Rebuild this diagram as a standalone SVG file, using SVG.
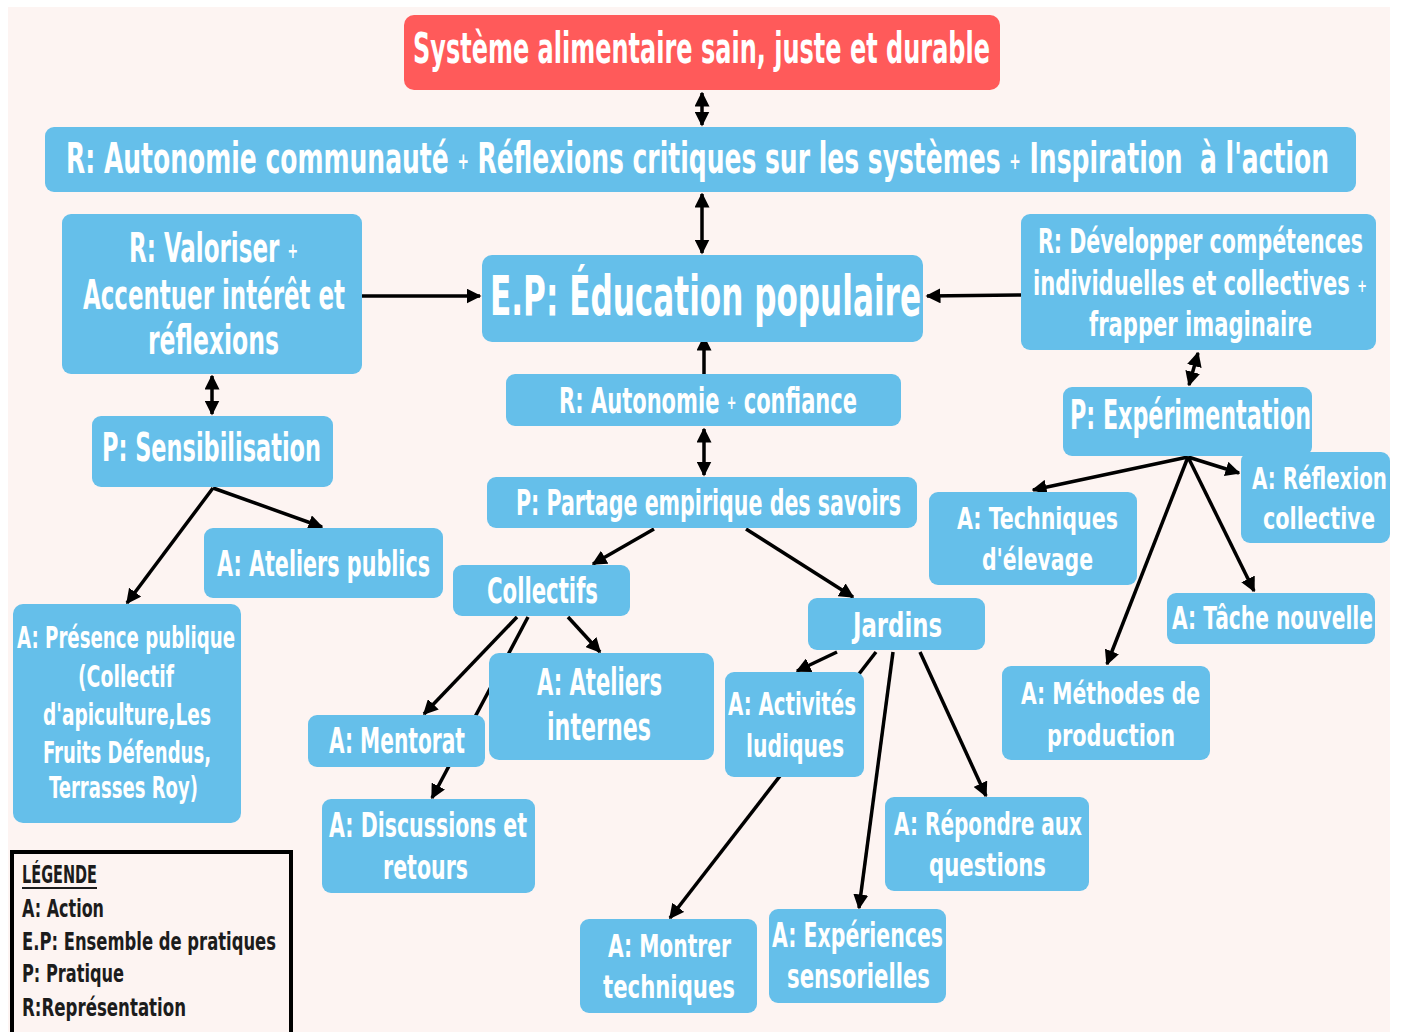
<svg xmlns="http://www.w3.org/2000/svg" width="1401" height="1032" viewBox="0 0 1401 1032">
<defs>
<style>
.bg{fill:#fdf4f2}
.n{fill:#65bfea}
.red{fill:#ff5a5a}
.t{font-family:"Liberation Sans Narrow","DejaVu Sans Condensed","Roboto Condensed","Liberation Sans",sans-serif;font-weight:bold;fill:#ffffff;text-anchor:middle}
.p{font-size:55%;baseline-shift:18%}
.lg{font-family:"Liberation Sans Narrow","DejaVu Sans Condensed","Roboto Condensed","Liberation Sans",sans-serif;font-weight:bold;fill:#1c1c1c;font-size:24px}
.c{stroke:#000;stroke-width:3.5;fill:none;marker-end:url(#ah)}
.d{stroke:#000;stroke-width:3.5;fill:none;marker-end:url(#ah);marker-start:url(#ah)}
</style>
<marker id="ah" viewBox="0 0 10 10" refX="9" refY="5" markerWidth="15" markerHeight="15" markerUnits="userSpaceOnUse" orient="auto-start-reverse">
<path d="M0,0 L10,5 L0,10 z" fill="#000"/>
</marker>
</defs>
<rect x="0" y="0" width="1401" height="1032" fill="#ffffff"/>
<rect class="bg" x="8" y="7" width="1382" height="1025"/>

<g id="connectors">
<line class="d" x1="702" y1="93" x2="702" y2="125"/>
<line class="d" x1="702" y1="194" x2="702" y2="253"/>
<line class="c" x1="362" y1="296" x2="480" y2="296"/>
<line class="c" x1="1021" y1="295" x2="927" y2="296"/>
<line class="c" x1="704" y1="374" x2="704" y2="337"/>
<line class="d" x1="704" y1="429" x2="704" y2="475"/>
<line class="d" x1="212" y1="376" x2="212" y2="414"/>
<line class="d" x1="1198" y1="353" x2="1189" y2="385"/>
<line class="c" x1="213" y1="488" x2="127" y2="603"/>
<line class="c" x1="213" y1="488" x2="322" y2="527"/>
<line class="c" x1="654" y1="529" x2="593" y2="564"/>
<line class="c" x1="746" y1="529" x2="853" y2="597"/>
<line class="c" x1="517" y1="617" x2="424" y2="714"/>
<line class="c" x1="528" y1="617" x2="432" y2="798"/>
<line class="c" x1="568" y1="617" x2="600" y2="652"/>
<line class="c" x1="837" y1="652" x2="797" y2="671"/>
<line class="c" x1="876" y1="652" x2="670" y2="918"/>
<line class="c" x1="893" y1="652" x2="859" y2="908"/>
<line class="c" x1="920" y1="652" x2="986" y2="796"/>
<line class="c" x1="1188" y1="457" x2="1033" y2="490"/>
<line class="c" x1="1188" y1="457" x2="1239" y2="473"/>
<line class="c" x1="1188" y1="457" x2="1107" y2="664"/>
<line class="c" x1="1188" y1="457" x2="1254" y2="591"/>
</g>

<g id="n-systeme"><rect class="red" x="404" y="15" width="596" height="75" rx="10"/><text class="t" x="701.5" y="63" font-size="42" textLength="577" lengthAdjust="spacingAndGlyphs">Système alimentaire sain, juste et durable</text></g>

<g id="n-r-top"><rect class="n" x="45" y="127" width="1311" height="65" rx="9"/><text class="t" x="697.5" y="173" font-size="42" textLength="1263" lengthAdjust="spacingAndGlyphs" xml:space="preserve">R: Autonomie communauté <tspan class="p">+</tspan> Réflexions critiques sur les systèmes <tspan class="p">+</tspan> Inspiration  à l'action</text></g>

<g id="n-valoriser"><rect class="n" x="62" y="214" width="300" height="160" rx="9"/>
<text class="t" x="213.5" y="262" font-size="40" textLength="169" lengthAdjust="spacingAndGlyphs">R: Valoriser <tspan class="p">+</tspan></text>
<text class="t" x="214" y="309" font-size="40" textLength="262" lengthAdjust="spacingAndGlyphs">Accentuer intérêt et</text>
<text class="t" x="213.5" y="354" font-size="40" textLength="131" lengthAdjust="spacingAndGlyphs">réflexions</text></g>

<g id="n-ep"><rect class="n" x="482" y="255" width="441" height="87" rx="10"/><text class="t" x="705.5" y="315" font-size="56" textLength="431" lengthAdjust="spacingAndGlyphs">E.P: Éducation populaire</text></g>

<g id="n-developper"><rect class="n" x="1021" y="214" width="355" height="136" rx="9"/>
<text class="t" x="1200.5" y="253" font-size="33" textLength="325" lengthAdjust="spacingAndGlyphs">R: Développer compétences</text>
<text class="t" x="1200" y="295" font-size="33" textLength="334" lengthAdjust="spacingAndGlyphs">individuelles et collectives <tspan class="p">+</tspan></text>
<text class="t" x="1200.5" y="336" font-size="33" textLength="223" lengthAdjust="spacingAndGlyphs">frapper imaginaire</text></g>

<g id="n-autonomie"><rect class="n" x="506" y="374" width="395" height="52" rx="9"/><text class="t" x="708" y="413" font-size="36" textLength="298" lengthAdjust="spacingAndGlyphs">R: Autonomie <tspan class="p">+</tspan> confiance</text></g>

<g id="n-sensibilisation"><rect class="n" x="92" y="416" width="241" height="71" rx="9"/><text class="t" x="211.5" y="461" font-size="39" textLength="219" lengthAdjust="spacingAndGlyphs">P: Sensibilisation</text></g>

<g id="n-experimentation"><rect class="n" x="1063" y="387" width="249" height="69" rx="9"/><text class="t" x="1190.5" y="429" font-size="40" textLength="241" lengthAdjust="spacingAndGlyphs">P: Expérimentation</text></g>

<g id="n-partage"><rect class="n" x="487" y="477" width="430" height="51" rx="9"/><text class="t" x="708.5" y="515" font-size="35" textLength="385" lengthAdjust="spacingAndGlyphs">P: Partage empirique des savoirs</text></g>

<g id="n-ateliers-publics"><rect class="n" x="204" y="528" width="239" height="70" rx="9"/><text class="t" x="323.5" y="576" font-size="36" textLength="213" lengthAdjust="spacingAndGlyphs">A: Ateliers publics</text></g>

<g id="n-techniques"><rect class="n" x="929" y="492" width="208" height="93" rx="9"/>
<text class="t" x="1037.5" y="529" font-size="31" textLength="161" lengthAdjust="spacingAndGlyphs">A: Techniques</text>
<text class="t" x="1037.5" y="570" font-size="31" textLength="111" lengthAdjust="spacingAndGlyphs">d'élevage</text></g>

<g id="n-reflexion"><rect class="n" x="1241" y="452" width="149" height="91" rx="9"/>
<text class="t" x="1319.5" y="489" font-size="31" textLength="135" lengthAdjust="spacingAndGlyphs">A: Réflexion</text>
<text class="t" x="1319" y="529" font-size="31" textLength="112" lengthAdjust="spacingAndGlyphs">collective</text></g>

<g id="n-collectifs"><rect class="n" x="453" y="565" width="177" height="51" rx="9"/><text class="t" x="542.5" y="603" font-size="35" textLength="111" lengthAdjust="spacingAndGlyphs">Collectifs</text></g>

<g id="n-jardins"><rect class="n" x="808" y="598" width="177" height="52" rx="9"/><text class="t" x="897.5" y="637" font-size="34" textLength="89" lengthAdjust="spacingAndGlyphs">Jardins</text></g>

<g id="n-tache"><rect class="n" x="1167" y="593" width="208" height="51" rx="9"/><text class="t" x="1272.5" y="629" font-size="32" textLength="201" lengthAdjust="spacingAndGlyphs">A: Tâche nouvelle</text></g>

<g id="n-presence"><rect class="n" x="13" y="604" width="228" height="219" rx="10"/>
<text class="t" x="126" y="648" font-size="30" textLength="218" lengthAdjust="spacingAndGlyphs">A: Présence publique</text>
<text class="t" x="126" y="687" font-size="30" textLength="96" lengthAdjust="spacingAndGlyphs">(Collectif</text>
<text class="t" x="127" y="725" font-size="30" textLength="168" lengthAdjust="spacingAndGlyphs">d'apiculture,Les</text>
<text class="t" x="127" y="763" font-size="30" textLength="168" lengthAdjust="spacingAndGlyphs">Fruits Défendus,</text>
<text class="t" x="123.5" y="798" font-size="30" textLength="149" lengthAdjust="spacingAndGlyphs">Terrasses Roy)</text></g>

<g id="n-mentorat"><rect class="n" x="308" y="715" width="177" height="52" rx="9"/><text class="t" x="397" y="753" font-size="36" textLength="136" lengthAdjust="spacingAndGlyphs">A: Mentorat</text></g>

<g id="n-ateliers-internes"><rect class="n" x="489" y="653" width="225" height="107" rx="10"/>
<text class="t" x="599.5" y="695" font-size="37" textLength="125" lengthAdjust="spacingAndGlyphs">A: Ateliers</text>
<text class="t" x="599" y="740" font-size="37" textLength="104" lengthAdjust="spacingAndGlyphs">internes</text></g>

<g id="n-activites"><rect class="n" x="725" y="672" width="139" height="105" rx="9"/>
<text class="t" x="792" y="715" font-size="32" textLength="128" lengthAdjust="spacingAndGlyphs">A: Activités</text>
<text class="t" x="795" y="757" font-size="32" textLength="98" lengthAdjust="spacingAndGlyphs">ludiques</text></g>

<g id="n-methodes"><rect class="n" x="1002" y="666" width="208" height="94" rx="9"/>
<text class="t" x="1110.5" y="704" font-size="31" textLength="179" lengthAdjust="spacingAndGlyphs">A: Méthodes de</text>
<text class="t" x="1111" y="746" font-size="31" textLength="128" lengthAdjust="spacingAndGlyphs">production</text></g>

<g id="n-discussions"><rect class="n" x="322" y="799" width="213" height="94" rx="9"/>
<text class="t" x="428" y="837" font-size="33" textLength="198" lengthAdjust="spacingAndGlyphs">A: Discussions et</text>
<text class="t" x="425.5" y="879" font-size="33" textLength="85" lengthAdjust="spacingAndGlyphs">retours</text></g>

<g id="n-repondre"><rect class="n" x="885" y="797" width="204" height="94" rx="9"/>
<text class="t" x="988" y="835" font-size="32" textLength="188" lengthAdjust="spacingAndGlyphs">A: Répondre aux</text>
<text class="t" x="987.5" y="876" font-size="32" textLength="117" lengthAdjust="spacingAndGlyphs">questions</text></g>

<g id="n-montrer"><rect class="n" x="580" y="919" width="177" height="94" rx="9"/>
<text class="t" x="669.5" y="957" font-size="32" textLength="123" lengthAdjust="spacingAndGlyphs">A: Montrer</text>
<text class="t" x="669" y="998" font-size="32" textLength="132" lengthAdjust="spacingAndGlyphs">techniques</text></g>

<g id="n-experiences"><rect class="n" x="769" y="909" width="177" height="94" rx="9"/>
<text class="t" x="857.5" y="947" font-size="33" textLength="171" lengthAdjust="spacingAndGlyphs">A: Expériences</text>
<text class="t" x="858.5" y="988" font-size="33" textLength="143" lengthAdjust="spacingAndGlyphs">sensorielles</text></g>

<g id="legend">
<rect x="12" y="852" width="279" height="200" fill="none" stroke="#000" stroke-width="4"/>
<text class="lg" x="22" y="883" textLength="75" lengthAdjust="spacingAndGlyphs">LÉGENDE</text>
<line x1="22" y1="888" x2="97" y2="888" stroke="#1c1c1c" stroke-width="1.8"/>
<text class="lg" x="22" y="917" textLength="82" lengthAdjust="spacingAndGlyphs">A: Action</text>
<text class="lg" x="22" y="950" textLength="254" lengthAdjust="spacingAndGlyphs">E.P: Ensemble de pratiques</text>
<text class="lg" x="22" y="982" textLength="102" lengthAdjust="spacingAndGlyphs">P: Pratique</text>
<text class="lg" x="22" y="1016" textLength="164" lengthAdjust="spacingAndGlyphs">R:Représentation</text>
</g>
</svg>
